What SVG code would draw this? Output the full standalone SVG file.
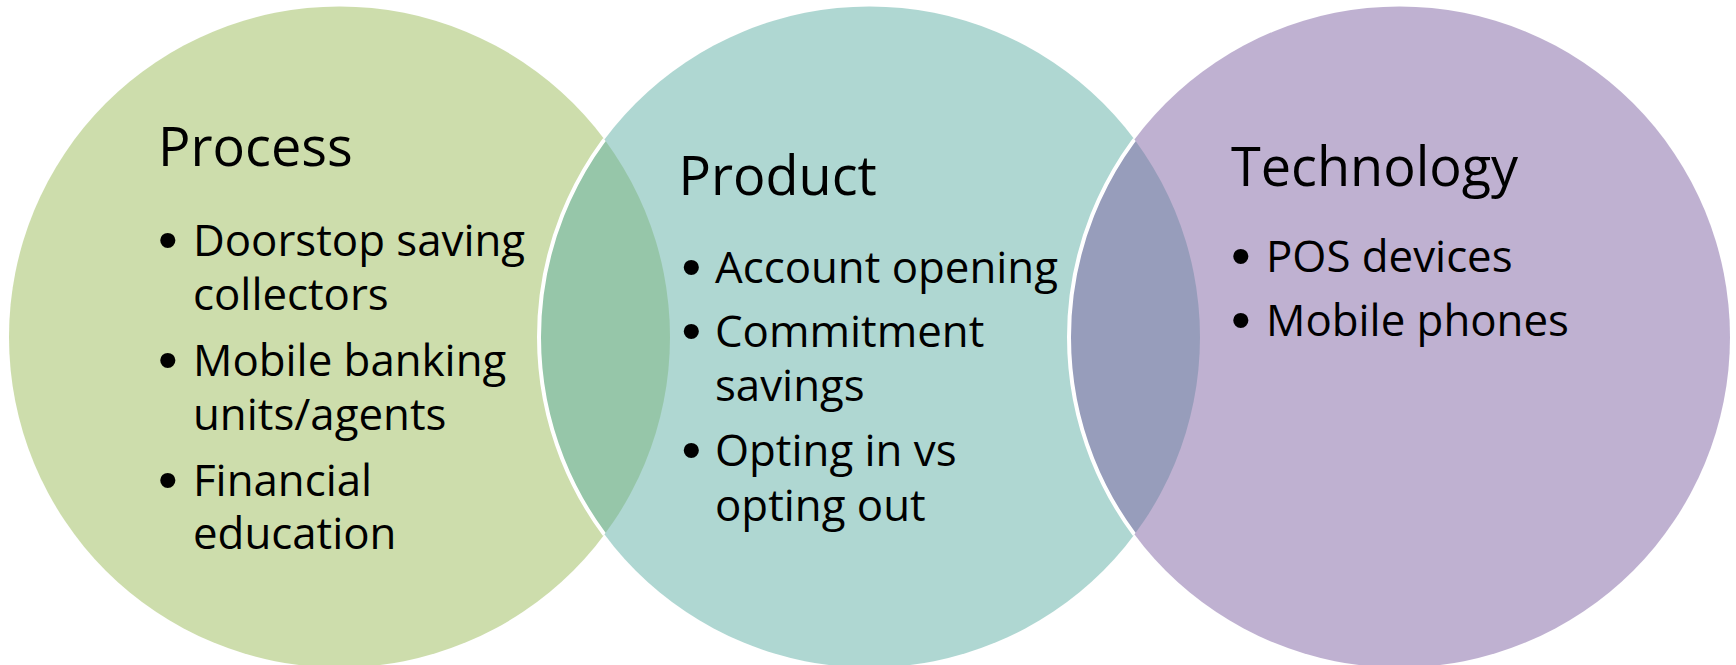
<svg xmlns="http://www.w3.org/2000/svg" width="1736" height="665" viewBox="0 0 1736 665">
  <defs>
    <style>
      .set { stroke: none; fill-opacity: 0.5; }
      .edge { fill: none; stroke: #ffffff; stroke-width: 4; }
      text { font-family: "Open Sans", "Liberation Sans", sans-serif; fill: #000000; }
      .title { font-size: 54px; }
      .item { font-size: 43.8px; }
      .dot { font-family: "Liberation Sans", sans-serif; font-size: 56px; }
    </style>
    <clipPath id="clip-process">
      <circle cx="339.5" cy="337" r="330.5"/>
    </clipPath>
    <clipPath id="clip-product">
      <circle cx="869.5" cy="337" r="330.5"/>
    </clipPath>
  </defs>

  <rect x="0" y="0" width="1736" height="665" fill="#ffffff"/>

  <!-- Process set -->
  <g id="process">
    <circle class="set" cx="339.5" cy="337" r="330.5" fill="#9BBB59"/>
  </g>

  <!-- Product set, outlined in white where it overlaps Process -->
  <g id="product">
    <circle class="set" cx="869.5" cy="337" r="330.5" fill="#5FAFA5"/>
    <circle class="edge" cx="869.5" cy="337" r="330.5" clip-path="url(#clip-process)"/>
  </g>

  <!-- Technology set, outlined in white where it overlaps Product -->
  <g id="technology">
    <circle class="set" cx="1399.5" cy="337" r="330.5" fill="#7F63A3"/>
    <circle class="edge" cx="1399.5" cy="337" r="330.5" clip-path="url(#clip-product)"/>
  </g>

  <!-- no connectors between the sets -->
  <g id="connectors"/>

  <!-- labels; bullets are nudged down a little to sit at mid x-height -->
  <g id="process-text">
    <text class="title" x="158" y="166">Process</text>
    <text class="item" y="256"><tspan class="dot" x="158" dy="3">•</tspan><tspan x="193" dy="-3">Doorstop saving</tspan></text>
    <text class="item" x="193" y="310">collectors</text>
    <text class="item" y="376"><tspan class="dot" x="158" dy="3">•</tspan><tspan x="193" dy="-3">Mobile banking</tspan></text>
    <text class="item" x="193" y="430">units/agents</text>
    <text class="item" y="496"><tspan class="dot" x="158" dy="3">•</tspan><tspan x="193" dy="-3">Financial</tspan></text>
    <text class="item" x="193" y="549">education</text>
  </g>

  <g id="product-text">
    <text class="title" x="678.5" y="195">Product</text>
    <text class="item" y="283"><tspan class="dot" x="681.5" dy="3">•</tspan><tspan x="715" dy="-3">Account opening</tspan></text>
    <text class="item" y="347"><tspan class="dot" x="681.5" dy="3">•</tspan><tspan x="715" dy="-3">Commitment</tspan></text>
    <text class="item" x="715" y="401">savings</text>
    <text class="item" y="466"><tspan class="dot" x="681.5" dy="3">•</tspan><tspan x="715" dy="-3">Opting in vs</tspan></text>
    <text class="item" x="715" y="521">opting out</text>
  </g>

  <g id="technology-text">
    <text class="title" x="1231" y="186">Technology</text>
    <text class="item" y="272"><tspan class="dot" x="1231" dy="3">•</tspan><tspan x="1266" dy="-3">POS devices</tspan></text>
    <text class="item" y="336"><tspan class="dot" x="1231" dy="3">•</tspan><tspan x="1266" dy="-3">Mobile phones</tspan></text>
  </g>
</svg>
